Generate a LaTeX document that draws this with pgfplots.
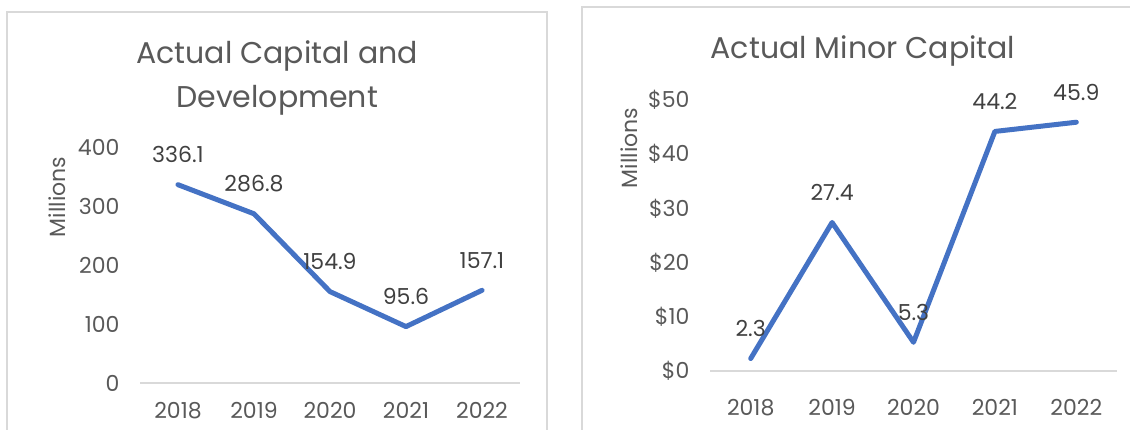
\documentclass[border=0pt]{standalone}
\usepackage{fontspec}
\setmainfont{Poppins}
\usepackage{pgfplots}
\pgfplotsset{compat=1.18}
\definecolor{linecol}{HTML}{4472C4}
\definecolor{tickgray}{HTML}{595959}
\definecolor{labgray}{HTML}{404040}
\definecolor{axgray}{HTML}{D9D9D9}
\pgfplotsset{
  panel/.style={
    scale only axis, anchor=south west, at={(0pt,0pt)},
    /pgf/number format/assume math mode=true,
    xmin=-0.5, xmax=4.5,
    xtick={0,1,2,3,4}, xticklabels={2018,2019,2020,2021,2022},
    separate axis lines,
    axis x line*=bottom, axis y line*=left,
    x axis line style={draw=axgray, line width=1.3pt, -},
    y axis line style={draw=none, -},
    tick style={draw=none},
    ticklabel style={font=\fontsize{22}{26}\selectfont, text=tickgray},
    yticklabel style={xshift=-17pt},
    xticklabel style={yshift=-16pt},
    ylabel=Millions,
    ylabel style={font=\fontsize{22}{26}\selectfont, text=tickgray, anchor=center},
    title style={font=\fontsize{30}{44}\selectfont, text=tickgray, anchor=center, align=center},
    nodes near coords={\pgfmathprintnumber[fixed,precision=1,fixed zerofill]{\pgfplotspointmeta}},
    nodes near coords style={anchor=center, yshift=30pt, font=\fontsize{22}{26}\selectfont, text=labgray},
  },
  serie/.style={color=linecol, line width=5pt, line cap=round, line join=round, mark=none},
}
\begin{document}
\begin{tikzpicture}
\useasboundingbox (0pt,0pt) rectangle (1130pt,430pt);
\draw[axgray, line width=1.3pt] (7pt,-5pt) -- (7pt,418pt) -- (547pt,418pt) -- (547pt,-5pt);
\draw[axgray, line width=1.3pt] (582pt,-5pt) -- (582pt,423pt) -- (1140pt,423pt);
\begin{scope}[shift={(140pt,47pt)}]
\begin{axis}[panel, width=380pt, height=236pt,
  ymin=0, ymax=400, ytick={0,100,200,300,400},
  ylabel style={at={(rel axis cs:-0.218,0.788)}},
  title={Actual Capital and\\Development},
  title style={at={(rel axis cs:0.361,1.267)}}]
\addplot[serie] coordinates {(0,336.1) (1,286.8) (2,154.9) (3,95.6) (4,157.1)};
\end{axis}
\end{scope}
\begin{scope}[shift={(710pt,59pt)}]
\begin{axis}[panel, width=407pt, height=271pt,
  ymin=0, ymax=50, ytick={0,10,20,30,40,50},
  yticklabels={\$0,\$10,\$20,\$30,\$40,\$50},
  xticklabel style={yshift=-9pt},
  ylabel style={at={(rel axis cs:-0.199,0.823)}},
  title={Actual Minor Capital},
  title style={at={(rel axis cs:0.376,1.159)}}]
\addplot[serie] coordinates {(0,2.3) (1,27.4) (2,5.3) (3,44.2) (4,45.9)};
\end{axis}
\end{scope}
\end{tikzpicture}
\end{document}
